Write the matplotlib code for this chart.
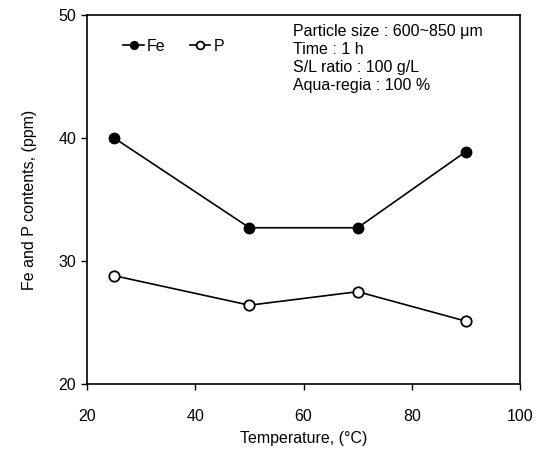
import matplotlib.pyplot as plt

plt.rcParams['font.family'] = ['Liberation Sans', 'DejaVu Sans']

temperature = [25, 50, 70, 90]
fe_ppm = [40.0, 32.7, 32.7, 38.9]
p_ppm = [28.8, 26.4, 27.5, 25.1]

fig = plt.figure(figsize=(5.48, 4.57), dpi=100)
ax = fig.add_axes([0.159, 0.16, 0.79, 0.807])

ax.plot(temperature, fe_ppm, color='black', lw=1.2, marker='o', ms=7.5,
        mfc='black', mec='black', label='Fe')
ax.plot(temperature, p_ppm, color='black', lw=1.2, marker='o', ms=7.5,
        mfc='white', mec='black', mew=1.3, label='P')

ax.set_xlim(20, 100)
ax.set_ylim(20, 50)
ax.set_xticks([20, 40, 60, 80, 100])
ax.set_yticks([20, 30, 40, 50])
ax.tick_params(direction='out', length=4, width=1, labelsize=11.5, pad=14)
ax.tick_params(axis='y', pad=4)
for s in ax.spines.values():
    s.set_linewidth(1.2)

ax.set_xlabel('Temperature, (\u00b0C)', fontsize=11.5, labelpad=5)
ax.set_ylabel('Fe and P contents, (ppm)', fontsize=11.5, labelpad=15)

ax.legend(loc='upper left', ncol=2, frameon=False, fontsize=11.5,
          handlelength=1.3, columnspacing=1.5, handletextpad=0.2,
          bbox_to_anchor=(0.05, 0.975), markerscale=0.75)

ax.text(0.476, 0.975,
        'Particle size : 600~850 \u03bcm\nTime : 1 h\nS/L ratio : 100 g/L\nAqua-regia : 100 %',
        transform=ax.transAxes, va='top', ha='left', fontsize=11.5, linespacing=1.25)

fig.savefig('out.png', dpi=100)
